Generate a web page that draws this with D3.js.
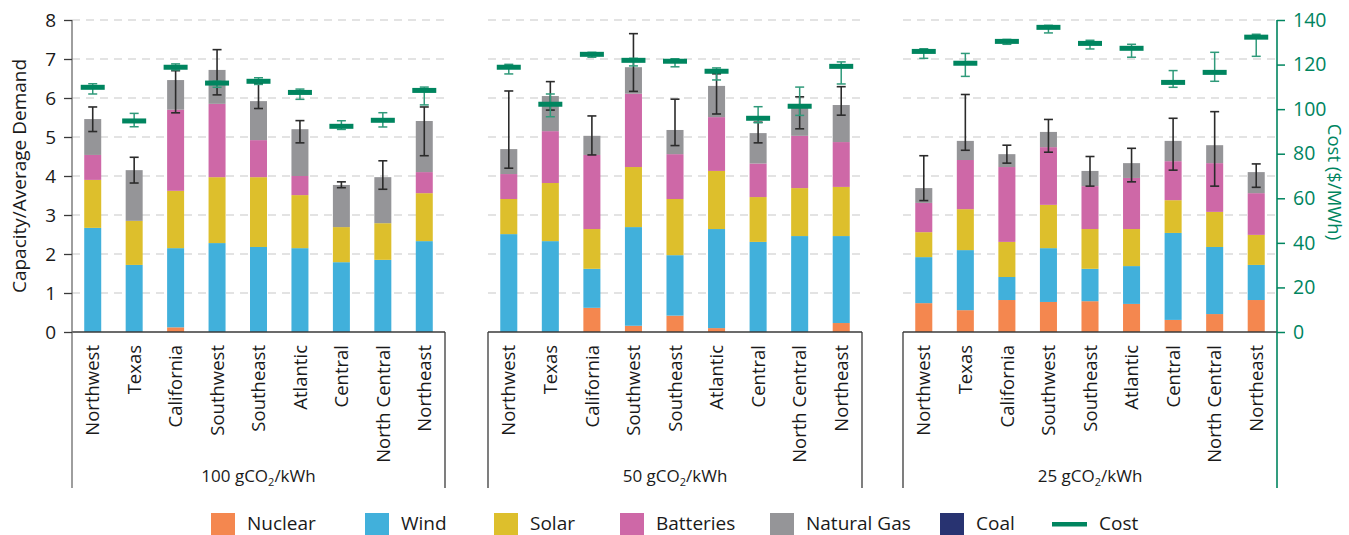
<!DOCTYPE html>
<html>
<head>
<meta charset="utf-8">
<script src="https://cdn.jsdelivr.net/npm/d3@7"></script>
<style>
  html, body { margin: 0; padding: 0; background: #fff; }
  svg { display: block; font-family: "Open Sans", "DejaVu Sans", sans-serif; }
</style>
</head>
<body>
<svg id="chart" width="1349" height="535"></svg>
<script>
// ---------------- DATA ----------------
const regions = ["Northwest","Texas","California","Southwest","Southeast","Atlantic","Central","North Central","Northeast"];
const scenarioLabels = ["100", "50", "25"]; // gCO2/kWh
const seriesNames = ["Nuclear","Wind","Solar","Batteries","Natural Gas","Coal"];

// capacity / average demand per resource; one row per scenario (100, 50, 25)
const nuclear = [
  [0, 0, 0.12, 0, 0, 0, 0, 0, 0],
  [0, 0, 0.62, 0.16, 0.42, 0.10, 0, 0, 0.23],
  [0.74, 0.56, 0.82, 0.77, 0.79, 0.72, 0.31, 0.46, 0.82]
];
const wind = [
  [2.67, 1.72, 2.03, 2.28, 2.18, 2.15, 1.79, 1.85, 2.33],
  [2.51, 2.33, 1.00, 2.53, 1.55, 2.54, 2.31, 2.46, 2.23],
  [1.18, 1.54, 0.59, 1.38, 0.83, 0.97, 2.23, 1.72, 0.90]
];
const solar = [
  [1.23, 1.13, 1.47, 1.69, 1.79, 1.36, 0.90, 0.94, 1.23],
  [0.90, 1.49, 1.02, 1.54, 1.44, 1.49, 1.15, 1.23, 1.26],
  [0.64, 1.05, 0.90, 1.11, 1.02, 0.95, 0.84, 0.90, 0.77]
];
const batteries = [
  [0.64, 0, 2.08, 1.88, 0.95, 0.49, 0, 0, 0.54],
  [0.64, 1.33, 1.90, 1.88, 1.15, 1.38, 0.86, 1.34, 1.15],
  [0.75, 1.26, 1.92, 1.48, 1.10, 1.31, 1.00, 1.25, 1.07]
];
const naturalGas = [
  [0.92, 1.30, 0.76, 0.87, 1.00, 1.20, 1.08, 1.18, 1.31],
  [0.64, 0.90, 0.49, 0.68, 0.62, 0.80, 0.78, 0.75, 0.95],
  [0.38, 0.49, 0.33, 0.39, 0.39, 0.38, 0.52, 0.46, 0.54]
];
const coal = [
  [0, 0, 0, 0, 0, 0, 0, 0, 0],
  [0, 0, 0, 0, 0, 0, 0, 0, 0],
  [0, 0, 0, 0, 0, 0, 0, 0, 0]
];
// total capacity error range (low, high)
const capLow = [
  [5.14, 3.82, 5.62, 6.08, 5.73, 4.85, 3.70, 3.66, 4.52],
  [4.20, 5.69, 4.54, 6.17, 4.78, 5.59, 4.85, 5.21, 5.56],
  [3.37, 4.66, 4.33, 4.61, 3.74, 3.85, 4.15, 3.74, 3.71]
];
const capHigh = [
  [5.77, 4.48, 6.70, 7.24, 6.38, 5.42, 3.85, 4.39, 5.77],
  [6.18, 6.42, 5.54, 7.65, 5.97, 6.62, 5.38, 6.03, 6.29],
  [4.52, 6.09, 4.79, 5.45, 4.50, 4.71, 5.48, 5.65, 4.31]
];
// cost ($/MWh)
const cost = [
  [109.8, 94.7, 118.8, 111.7, 112.5, 107.5, 92.3, 95.0, 108.4],
  [118.8, 102.2, 124.6, 121.9, 121.5, 117.0, 95.9, 101.3, 119.2],
  [125.9, 120.6, 130.4, 136.7, 129.5, 127.3, 112.0, 116.5, 132.3]
];
const costLow = [
  [106.8, 92.1, 117.6, 109.8, 111.1, 104.4, 90.9, 92.0, 101.9],
  [115.8, 96.6, 123.3, 119.4, 119.0, 113.1, 93.9, 97.2, 111.3],
  [122.8, 114.7, 129.1, 134.2, 127.0, 123.3, 109.8, 112.5, 123.7]
];
const costHigh = [
  [111.4, 98.1, 120.3, 112.5, 114.1, 109.0, 94.8, 98.4, 109.9],
  [120.1, 106.8, 125.5, 122.8, 122.6, 118.5, 101.1, 109.9, 121.2],
  [127.1, 125.0, 131.3, 137.6, 130.9, 129.1, 117.3, 125.5, 133.6]
];
const yTicks = [0,1,2,3,4,5,6,7,8];
const costTicks = [0,20,40,60,80,100,120,140];

// ---------------- STYLE / LAYOUT ----------------
const colors = {
  "Nuclear": "#F4874F", "Wind": "#41B0DB", "Solar": "#DDBF2C",
  "Batteries": "#CE68A7", "Natural Gas": "#959598", "Coal": "#283371"
};
const costColor = "#00855F";
const axisColor = "#3a3a3a";
const panels = [[72, 445], [488, 862], [903, 1277]];
const plotTop = 20, plotBottom = 332, boxBottom = 488;

const svg = d3.select("#chart");
const y = d3.scaleLinear().domain([0, 8]).range([plotBottom, plotTop]);
const yc = d3.scaleLinear().domain([0, 140]).range([plotBottom, plotTop]);

const seriesData = [nuclear, wind, solar, batteries, naturalGas, coal];

panels.forEach((p, si) => {
  const x = d3.scaleBand().domain(regions).range(p).paddingInner(0.59).paddingOuter(0.295);
  const g = svg.append("g");

  // gridlines
  g.selectAll("line.grid").data(yTicks.filter(d => d > 0)).join("line")
    .attr("x1", p[0]).attr("x2", p[1])
    .attr("y1", d => y(d)).attr("y2", d => y(d))
    .attr("stroke", "#c8c8c8").attr("stroke-width", 1.2)
    .attr("stroke-dasharray", "8,6");

  // stacked bars
  const rows = regions.map((r, i) => {
    const o = { region: r };
    seriesNames.forEach((s, k) => o[s] = seriesData[k][si][i]);
    return o;
  });
  const stack = d3.stack().keys(seriesNames)(rows);
  stack.forEach(layer => {
    g.selectAll(null).data(layer).join("rect")
      .attr("x", d => x(d.data.region))
      .attr("width", x.bandwidth())
      .attr("y", d => y(d[1]))
      .attr("height", d => Math.max(0, y(d[0]) - y(d[1])))
      .attr("fill", colors[layer.key]);
  });

  // capacity error bars
  const cap = 4.5;
  regions.forEach((r, i) => {
    const cx = x(r) + x.bandwidth() / 2;
    const lo = capLow[si][i], hi = capHigh[si][i];
    const eg = g.append("g").attr("stroke", "#2b2b2b").attr("stroke-width", 1.6);
    eg.append("line").attr("x1", cx).attr("x2", cx).attr("y1", y(lo)).attr("y2", y(hi));
    eg.append("line").attr("x1", cx - cap).attr("x2", cx + cap).attr("y1", y(lo)).attr("y2", y(lo));
    eg.append("line").attr("x1", cx - cap).attr("x2", cx + cap).attr("y1", y(hi)).attr("y2", y(hi));
  });

  // cost error bars and markers
  regions.forEach((r, i) => {
    const cx = x(r) + x.bandwidth() / 2;
    const lo = costLow[si][i], hi = costHigh[si][i];
    const eg = g.append("g").attr("stroke", "#2f9a7a").attr("stroke-width", 1.5);
    eg.append("line").attr("x1", cx).attr("x2", cx).attr("y1", yc(lo)).attr("y2", yc(hi));
    eg.append("line").attr("x1", cx - cap).attr("x2", cx + cap).attr("y1", yc(lo)).attr("y2", yc(lo));
    eg.append("line").attr("x1", cx - cap).attr("x2", cx + cap).attr("y1", yc(hi)).attr("y2", yc(hi));
    g.append("rect")
      .attr("x", cx - 12).attr("width", 24)
      .attr("y", yc(cost[si][i]) - 2.5).attr("height", 5)
      .attr("fill", costColor);
  });

  // panel box (below plot)
  const box = g.append("g").attr("stroke", axisColor).attr("stroke-width", 1.3).attr("fill", "none");
  box.append("line").attr("x1", p[0]).attr("x2", p[1]).attr("y1", plotBottom).attr("y2", plotBottom);
  box.append("line").attr("x1", p[0]).attr("x2", p[0]).attr("y1", si === 0 ? plotTop : plotBottom).attr("y2", boxBottom)
    .attr("stroke", si === 0 ? "#6a6a6a" : axisColor);
  if (si < 2) {
    box.append("line").attr("x1", p[1]).attr("x2", p[1]).attr("y1", plotBottom).attr("y2", boxBottom);
  }

  // category labels
  g.selectAll("text.cat").data(regions).join("text")
    .attr("transform", d => `translate(${x(d) + x.bandwidth() / 2},${plotBottom + 13}) rotate(-90)`)
    .attr("text-anchor", "end")
    .attr("dy", "0.36em")
    .attr("font-size", 18.5)
    .attr("fill", "#1a1a1a")
    .text(d => d);

  // scenario label
  const lab = g.append("text")
    .attr("x", (p[0] + p[1]) / 2).attr("y", 482)
    .attr("text-anchor", "middle")
    .attr("font-size", 17)
    .attr("fill", "#1a1a1a");
  lab.append("tspan").text(scenarioLabels[si] + " gCO");
  lab.append("tspan").attr("font-size", 11).attr("dy", 4).text("2");
  lab.append("tspan").attr("dy", -4).text("/kWh");
});

// left axis
const leftAxis = svg.append("g").attr("transform", `translate(${panels[0][0]},0)`)
  .call(d3.axisLeft(y).tickValues(yTicks).tickFormat(d3.format("d")).tickSize(8).tickPadding(8));
leftAxis.select(".domain").remove();
leftAxis.selectAll(".tick line").attr("stroke", axisColor).attr("stroke-width", 1.3);
leftAxis.selectAll(".tick text").attr("font-size", 19).attr("fill", "#1a1a1a").attr("font-family", "'Open Sans', sans-serif");
svg.append("text")
  .attr("transform", `translate(26,${(plotTop + plotBottom) / 2}) rotate(-90)`)
  .attr("text-anchor", "middle").attr("font-size", 19).attr("fill", "#1a1a1a")
  .text("Capacity/Average Demand");

// right axis (cost)
const rx = panels[2][1];
const rightAxis = svg.append("g").attr("transform", `translate(${rx},0)`)
  .call(d3.axisRight(yc).tickValues(costTicks).tickSize(8).tickPadding(8));
rightAxis.select(".domain").remove();
rightAxis.selectAll(".tick line").attr("stroke", costColor).attr("stroke-width", 1.5);
rightAxis.selectAll(".tick text").attr("font-size", 19.5).attr("fill", costColor).attr("font-family", "'Open Sans', sans-serif");
svg.append("line").attr("x1", rx).attr("x2", rx).attr("y1", plotTop).attr("y2", boxBottom)
  .attr("stroke", costColor).attr("stroke-width", 1.6);
svg.append("text")
  .attr("transform", `translate(1334,${(plotTop + plotBottom) / 2 + 6}) rotate(90)`)
  .attr("text-anchor", "middle").attr("dy", "0.35em").attr("font-size", 18.5).attr("fill", costColor)
  .text("Cost ($/MWh)");

// legend
const legendItems = [
  { name: "Nuclear", x: 211 }, { name: "Wind", x: 365 }, { name: "Solar", x: 494 },
  { name: "Batteries", x: 620 }, { name: "Natural Gas", x: 770 }, { name: "Coal", x: 940 },
  { name: "Cost", x: 1052 }
];
const lg = svg.append("g");
legendItems.forEach(it => {
  if (it.name === "Cost") {
    lg.append("rect").attr("x", it.x).attr("y", 522).attr("width", 35).attr("height", 4.5).attr("fill", costColor);
    lg.append("text").attr("x", it.x + 47).attr("y", 530)
      .attr("font-size", 19).attr("fill", "#1a1a1a").text(it.name);
  } else {
    lg.append("rect").attr("x", it.x).attr("y", 513).attr("width", 24).attr("height", 22).attr("fill", colors[it.name]);
    lg.append("text").attr("x", it.x + 36).attr("y", 530)
      .attr("font-size", 19).attr("fill", "#1a1a1a").text(it.name);
  }
});
</script>
</body>
</html>
